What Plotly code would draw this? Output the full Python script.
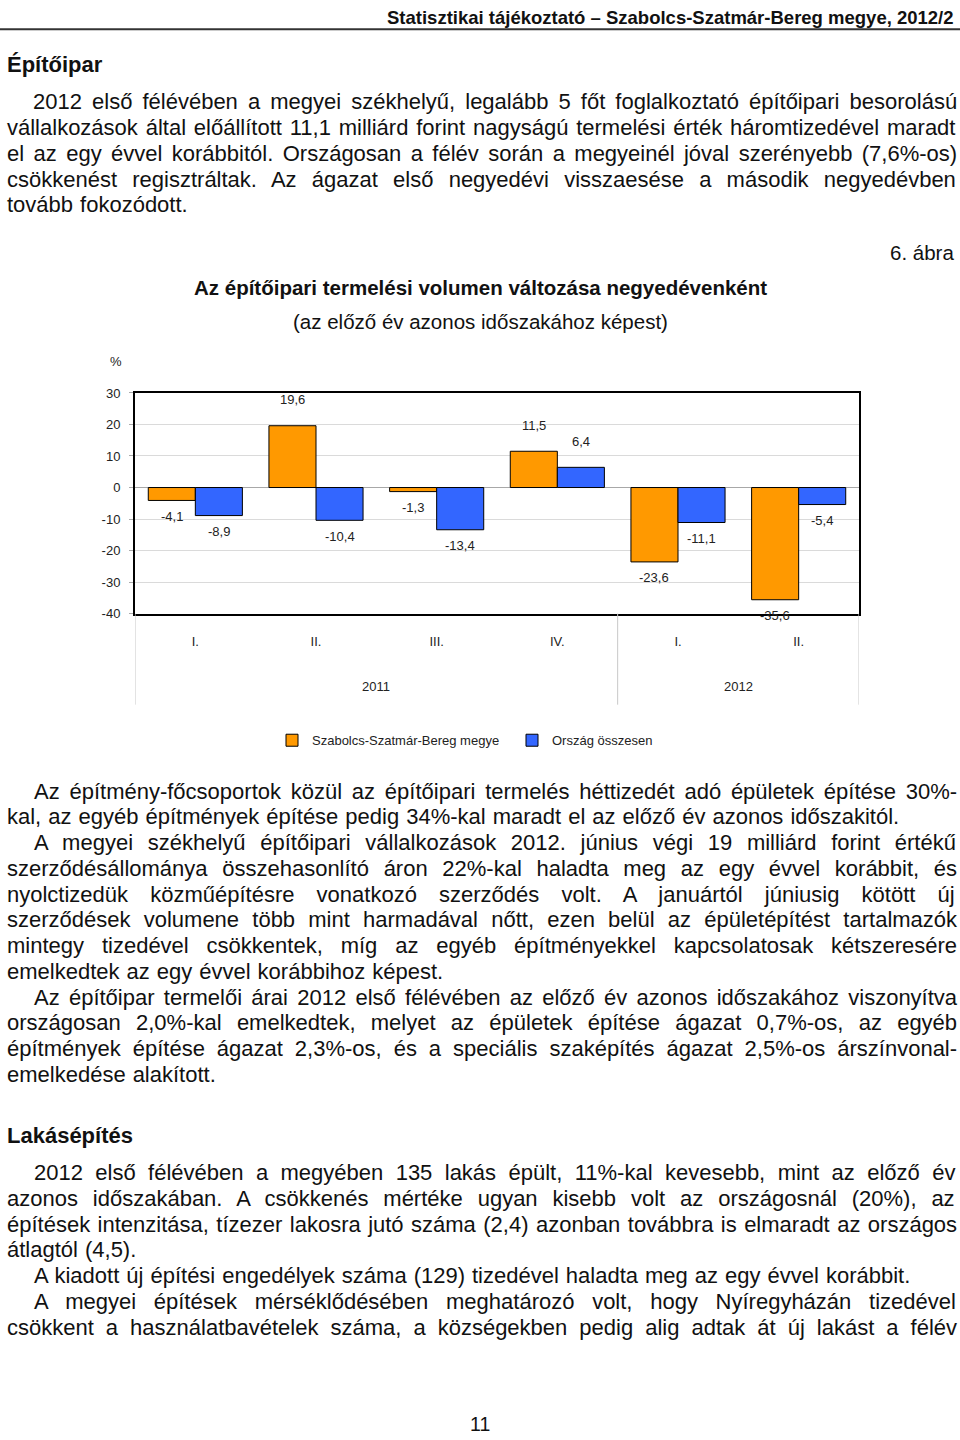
import plotly.graph_objects as go

# ---------------- data ----------------
quarters = ["I.", "II.", "III.", "IV.", "I.", "II."]
years = ["2011", "2012"]
year_spans = [(0, 3), (4, 5)]
county = [-4.1, 19.6, -1.3, 11.5, -23.6, -35.6]
national = [-8.9, -10.4, -13.4, 6.4, -11.1, -5.4]
series_names = ["Szabolcs-Szatmár-Bereg megye", "Ország összesen"]
y_ticks = [-40, -30, -20, -10, 0, 10, 20, 30]

header_text = "Statisztikai tájékoztató – Szabolcs-Szatmár-Bereg megye, 2012/2"
heading1 = "Építőipar"
heading2 = "Lakásépítés"
fig_no = "6. ábra"
chart_title = "Az építőipari termelési volumen változása negyedévenként"
chart_subtitle = "(az előző év azonos időszakához képest)"
page_no = "11"

# (text, x-start px, y-center px, justified)
body_lines = [
    ("2012 első félévében a megyei székhelyű, legalább 5 főt foglalkoztató építőipari besorolású", 31, 96, True),
    ("vállalkozások által előállított 11,1 milliárd forint nagyságú termelési érték háromtizedével maradt", 5, 122, True),
    ("el az egy évvel korábbitól. Országosan a félév során a megyeinél jóval szerényebb (7,6%-os)", 5, 148, True),
    ("csökkenést regisztráltak. Az ágazat első negyedévi visszaesése a második negyedévben", 5, 174, True),
    ("tovább fokozódott.", 5, 200, False),
    ("Az építmény-főcsoportok közül az építőipari termelés héttizedét adó épületek építése 30%-", 32, 792.5, True),
    ("kal, az egyéb építmények építése pedig 34%-kal maradt el az előző év azonos időszakitól.", 5, 818.5, False),
    ("A megyei székhelyű építőipari vállalkozások 2012. június végi 19 milliárd forint értékű", 32, 844.5, True),
    ("szerződésállománya összehasonlító áron 22%-kal haladta meg az egy évvel korábbit, és", 5, 870.5, True),
    ("nyolctizedük közműépítésre vonatkozó szerződés volt. A januártól júniusig kötött új", 5, 896.5, True),
    ("szerződések volumene több mint harmadával nőtt, ezen belül az épületépítést tartalmazók", 5, 922.5, True),
    ("mintegy tizedével csökkentek, míg az egyéb építményekkel kapcsolatosak kétszeresére", 5, 948.5, True),
    ("emelkedtek az egy évvel korábbihoz képest.", 5, 974.5, False),
    ("Az építőipar termelői árai 2012 első félévében az előző év azonos időszakához viszonyítva", 32, 1000.5, True),
    ("országosan 2,0%-kal emelkedtek, melyet az épületek építése ágazat 0,7%-os, az egyéb", 5, 1026.5, True),
    ("építmények építése ágazat 2,3%-os, és a speciális szaképítés ágazat 2,5%-os árszínvonal-", 5, 1052.5, True),
    ("emelkedése alakított.", 5, 1078.5, False),
    ("2012 első félévében a megyében 135 lakás épült, 11%-kal kevesebb, mint az előző év", 32, 1178, True),
    ("azonos időszakában. A csökkenés mértéke ugyan kisebb volt az országosnál (20%), az", 5, 1204, True),
    ("építések intenzitása, tízezer lakosra jutó száma (2,4) azonban továbbra is elmaradt az országos", 5, 1230, True),
    ("átlagtól (4,5).", 5, 1256, False),
    ("A kiadott új építési engedélyek száma (129) tizedével haladta meg az egy évvel korábbit.", 32, 1282, False),
    ("A megyei építések mérséklődésében meghatározó volt, hogy Nyíregyházán tizedével", 32, 1308, True),
    ("csökkent a használatbavételek száma, a községekben pedig alig adtak át új lakást a félév", 5, 1334, True),
]

# ---------------- styling ----------------
W, H = 960, 1440
FONT = "Liberation Sans, Arial, sans-serif"
BODY_SIZE = 22
RIGHT_EDGE = 955
ORANGE = "#FF9900"
BLUE = "#3366FF"

# Arial / Liberation Sans advance widths (1/1000 em)
AW = {" ": 278, "%": 889, "(": 333, ")": 333, ",": 278, "-": 333, ".": 278, "/": 278, ":": 278,
      "A": 667, "B": 667, "C": 722, "D": 722, "E": 667, "F": 611, "G": 778, "H": 722, "I": 278,
      "J": 500, "K": 667, "L": 556, "M": 833, "N": 722, "O": 778, "P": 667, "R": 722, "S": 667,
      "T": 611, "U": 722, "V": 667, "Z": 611,
      "a": 556, "b": 556, "c": 500, "d": 556, "e": 556, "f": 278, "g": 556, "h": 556, "i": 222,
      "j": 222, "k": 500, "l": 222, "m": 833, "n": 556, "o": 556, "p": 556, "q": 556, "r": 333,
      "s": 500, "t": 278, "u": 556, "v": 500, "w": 722, "x": 500, "y": 500, "z": 500,
      "á": 556, "é": 556, "í": 278, "ó": 556, "ö": 556, "ő": 556, "ú": 556, "ü": 556, "ű": 556,
      "Á": 667, "É": 667, "Ó": 778, "Ö": 778, "Ú": 722, "Ü": 722}


def text_width(s, size):
    return sum(AW.get(ch, 556) for ch in s) / 1000.0 * size


def px(xp):
    return xp / W


def py(yp):
    return 1 - yp / H


def note(x, y, text, size, xanchor="center", color="#111"):
    return dict(x=px(x), y=py(y), xref="paper", yref="paper", text=text, showarrow=False,
                xanchor=xanchor, yanchor="middle", font=dict(family=FONT, size=size, color=color))


fig = go.Figure()
fig.add_trace(go.Bar(x=list(range(len(quarters))), y=county, name=series_names[0],
                     marker=dict(color=ORANGE, line=dict(color="black", width=1))))
fig.add_trace(go.Bar(x=list(range(len(quarters))), y=national, name=series_names[1],
                     marker=dict(color=BLUE, line=dict(color="black", width=1))))

annotations = []
shapes = []

# value labels
bar_off = (1 - 0.22) / 4
for vals, off in ((county, -bar_off), (national, bar_off)):
    for i, v in enumerate(vals):
        annotations.append(dict(x=i + off, y=v, xref="x", yref="y",
                                text=f"{v:.1f}".replace(".", ","), showarrow=False,
                                xanchor="center", yanchor="middle",
                                yshift=26 if v > 0 else -16,
                                font=dict(family=FONT, size=13, color="#222")))

# year labels and separators
for (a, b), yr in zip(year_spans, years):
    annotations.append(dict(x=(a + b) / 2, y=py(687), xref="x", yref="paper", text=yr,
                            showarrow=False, xanchor="center", yanchor="middle",
                            font=dict(family=FONT, size=13, color="#222")))
for xv in (-0.5, 3.5, 5.5):
    shapes.append(dict(type="line", xref="x", yref="paper", x0=xv, x1=xv,
                       y0=py(613), y1=py(705), line=dict(color="#C8C8C8", width=1)))

annotations.append(note(116, 358, "%", 13, color="#222"))
annotations.append(note(956, 11, f"<b>{header_text}</b>", 18.5, xanchor="right"))
shapes.append(dict(type="line", xref="paper", yref="paper", x0=0, x1=1, y0=py(22.5), y1=py(22.5),
                   line=dict(color="#333", width=2)))
annotations.append(note(5, 58.5, f"<b>{heading1}</b>", 22, xanchor="left"))
annotations.append(note(5, 1140.5, f"<b>{heading2}</b>", 22, xanchor="left"))
annotations.append(note(956, 248, fig_no, 20.5, xanchor="right"))
annotations.append(note(480, 283, f"<b>{chart_title}</b>", 20.5))
annotations.append(note(480, 318, chart_subtitle, 20.5))

# body text (justified via word-spacing)
for txt, x0, yc, just in body_lines:
    if just:
        n_sp = txt.count(" ")
        extra = (RIGHT_EDGE - x0 - text_width(txt, BODY_SIZE)) / max(n_sp, 1)
    else:
        extra = 0.9
    content = f"<span style='word-spacing:{extra:.2f}px'>{txt}</span>"
    annotations.append(note(x0, yc, content, BODY_SIZE, xanchor="left"))

annotations.append(note(480, 1432, page_no, 19.5))

fig.update_layout(
    width=W, height=H, margin=dict(l=0, r=0, t=0, b=0),
    paper_bgcolor="white", plot_bgcolor="white",
    barmode="group", bargap=0.22, bargroupgap=0,
    font=dict(family=FONT, size=13, color="#222"),
    showlegend=True,
    legend=dict(orientation="h", x=px(272), y=py(741), xanchor="left", yanchor="middle",
                font=dict(family=FONT, size=13, color="#222"), entrywidth=195,
                bgcolor="rgba(0,0,0,0)"),
    annotations=annotations, shapes=shapes,
    xaxis=dict(domain=[px(135), px(859)], range=[-0.5, 5.5], tickmode="array",
               tickvals=list(range(len(quarters))), ticktext=quarters, showgrid=False,
               zeroline=False, showline=True, linecolor="black", linewidth=2, mirror=True,
               ticks="", ticklabelstandoff=15, tickfont=dict(family=FONT, size=13, color="#222"),
               fixedrange=True),
    yaxis=dict(domain=[py(613), py(390)], range=[-40, 30], tickmode="array", tickvals=y_ticks,
               ticktext=[str(v) for v in y_ticks],
               showgrid=True, gridcolor="#DADADA", gridwidth=1,
               zeroline=True, zerolinecolor="#A8A8A8", zerolinewidth=1,
               showline=True, linecolor="black", linewidth=2, mirror=True,
               ticks="outside", ticklen=4, tickcolor="#AAAAAA", ticklabelstandoff=6,
               tickfont=dict(family=FONT, size=13, color="#222"), fixedrange=True),
)

fig.write_html("out.html", config={"displayModeBar": False},
               post_script="document.body.style.margin='0';document.documentElement.style.overflow='hidden';")
